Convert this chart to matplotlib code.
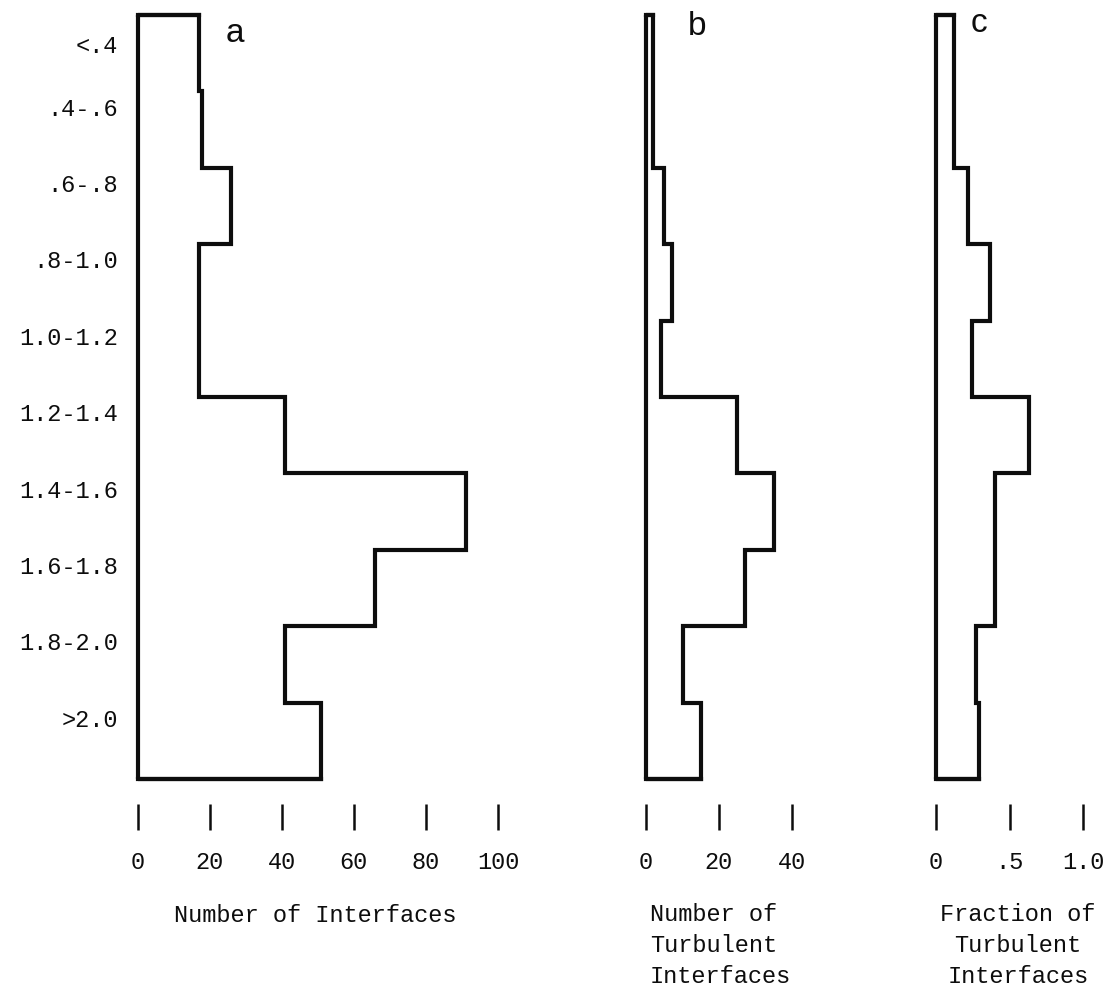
import numpy as np
import matplotlib
matplotlib.use("Agg")
import matplotlib.pyplot as plt

# ---- data ----
categories = ['<.4', '.4-.6', '.6-.8', '.8-1.0', '1.0-1.2',
              '1.2-1.4', '1.4-1.6', '1.6-1.8', '1.8-2.0', '>2.0']
n_interfaces = [17, 18, 26, 17, 17, 41, 91, 66, 41, 51]
n_turbulent = [2, 2, 5, 7, 4, 25, 35, 27, 10, 15]
frac_turbulent = [0.12, 0.12, 0.22, 0.37, 0.245, 0.63, 0.40, 0.40, 0.27, 0.29]

ticks_a = [0, 20, 40, 60, 80, 100]
ticks_b = [0, 20, 40]
ticks_c = [0, 0.5, 1.0]
ticklabels_c = ['0', '.5', '1.0']

W, H = 1119, 991
fig = plt.figure(figsize=(W / 100, H / 100), dpi=100)
fig.patch.set_facecolor('white')

MONO = 'Liberation Mono'
SANS = 'Liberation Sans'
FS = 17
LW = 3.0
INK = '#0d0d0d'

top_px, bin_px = 15.0, 76.4
ax_top_px, ax_bot_px = 10.0, 804.0
n = len(categories)
edges = np.arange(n + 1)


def make_axes(x0, x1, xmax, values, ticks, ticklabels=None):
    ax = fig.add_axes([x0 / W, 1 - ax_bot_px / H, (x1 - x0) / W,
                       (ax_bot_px - ax_top_px) / H])
    ax.set_xlim(0, xmax)
    ax.set_ylim((ax_bot_px - top_px) / bin_px, (ax_top_px - top_px) / bin_px)
    for s in ax.spines.values():
        s.set_visible(False)
    ax.stairs(values, edges, orientation='horizontal', baseline=0,
              color=INK, linewidth=LW, clip_on=False, joinstyle='miter')
    ax.vlines(0, 0, n, color=INK, linewidth=LW, clip_on=False)
    ax.plot([0, values[0]], [0, 0], color=INK, linewidth=LW,
            solid_capstyle='projecting', clip_on=False)
    ax.plot([0, values[-1]], [n, n], color=INK, linewidth=LW,
            solid_capstyle='projecting', clip_on=False)
    ax.set_xticks(ticks)
    if ticklabels is not None:
        ax.set_xticklabels(ticklabels)
    ax.tick_params(axis='x', direction='out', length=19, width=1.8,
                   color=INK, pad=15, labelsize=FS)
    for lab in ax.get_xticklabels():
        lab.set_family(MONO)
        lab.set_color(INK)
    ax.set_yticks([])
    ax.patch.set_alpha(0)
    return ax


ax_a = make_axes(137.5, 498, 100, n_interfaces, ticks_a)
ax_b = make_axes(646, 792, 40, n_turbulent, ticks_b)
ax_c = make_axes(936, 1083, 1.0, frac_turbulent, ticks_c, ticklabels_c)

# y category labels (slightly above bin centres, as in the original)
ypos = np.arange(n) + 0.2
ypos[0] = 0.38
ax_a.set_yticks(ypos)
ax_a.set_yticklabels(categories, family=MONO, fontsize=FS, color=INK)
ax_a.tick_params(axis='y', length=0, pad=14)

# panel letters
fig.text(235 / W, 1 - 42 / H, 'a', family=SANS, fontsize=24, ha='center',
         va='baseline', color=INK)
fig.text(697 / W, 1 - 35 / H, 'b', family=SANS, fontsize=24, ha='center',
         va='baseline', color=INK)
fig.text(979 / W, 1 - 32 / H, 'c', family=SANS, fontsize=24, ha='center',
         va='baseline', color=INK)

# axis titles
fig.text(315 / W, 1 - 915 / H, 'Number of Interfaces', family=MONO,
         fontsize=FS, ha='center', va='center', color=INK)
fig.text(650 / W, 1 - 903 / H, 'Number of\nTurbulent\nInterfaces',
         family=MONO, fontsize=FS, ha='left', va='top', color=INK,
         linespacing=1.45)
fig.text(1018 / W, 1 - 903 / H, 'Fraction of\nTurbulent\nInterfaces',
         family=MONO, fontsize=FS, ha='center', va='top', color=INK,
         multialignment='center', linespacing=1.45)

fig.savefig('out.png', dpi=100, facecolor='white')
